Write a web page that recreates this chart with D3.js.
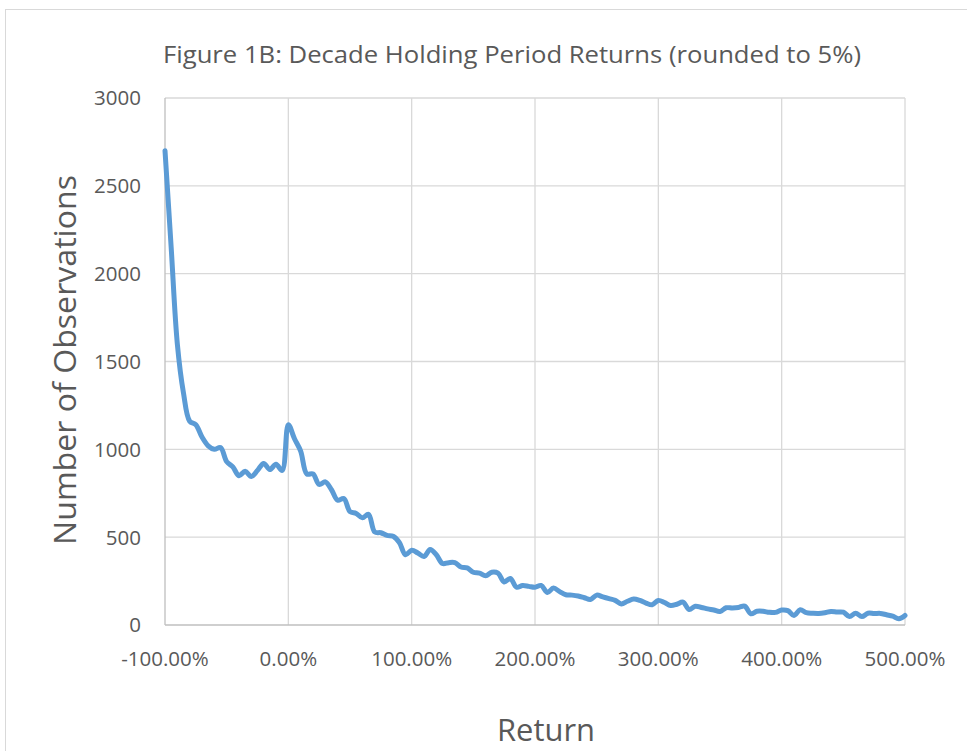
<!DOCTYPE html>
<html><head><meta charset="utf-8">
<script src="https://cdn.jsdelivr.net/npm/d3@7"></script>
<style>body{margin:0;background:#fff}svg{display:block}text{font-family:"Open Sans",sans-serif;fill:#595959}</style>
</head><body>
<svg id="c" width="967" height="751"></svg>
<script>
const returns = d3.range(-100, 501, 5);
const counts = [2700,2150,1600,1320,1160,1140,1070,1020,1000,1010,930,900,850,875,845,880,920,885,915,880,
1140,1060,990,860,860,800,815,770,710,720,645,635,610,630,530,525,510,505,470,400,
425,410,390,430,400,350,355,355,330,325,300,295,280,300,295,245,265,215,225,220,
215,225,185,210,190,172,170,165,155,145,170,160,150,140,120,135,148,140,125,115,
140,128,111,118,130,88,107,100,92,85,77,98,97,100,108,64,78,78,72,72,
85,82,54,87,70,67,66,70,77,74,73,48,67,48,67,65,66,58,50,35,54];
const xTicks = [-100,0,100,200,300,400,500];
const yTicks = [0,500,1000,1500,2000,2500,3000];
const data = returns.map((r,i)=>({r, c: counts[i]}));

const svg = d3.select("#c");
const m = {l:165, r:905, t:98, b:625};
const x = d3.scaleLinear().domain([-100,500]).range([m.l, m.r]);
const y = d3.scaleLinear().domain([0,3000]).range([m.b, m.t]);

svg.append("rect").attr("x",5.5).attr("y",9.5).attr("width",970).attr("height",760)
  .attr("fill","#fff").attr("stroke","#d9d9d9");

// gridlines
svg.append("g").selectAll("line").data(yTicks.filter(d=>d>0)).join("line")
  .attr("x1",m.l).attr("x2",m.r).attr("y1",d=>y(d)).attr("y2",d=>y(d))
  .attr("stroke","#d9d9d9").attr("stroke-width",1.3);
svg.append("g").selectAll("line").data(xTicks).join("line")
  .attr("x1",d=>x(d)).attr("x2",d=>x(d)).attr("y1",m.t).attr("y2",m.b)
  .attr("stroke", d=> d===-100 ? "#bfbfbf" : "#d9d9d9").attr("stroke-width",1.3);
svg.append("line").attr("x1",m.l).attr("x2",m.r).attr("y1",m.b).attr("y2",m.b)
  .attr("stroke","#bfbfbf").attr("stroke-width",1.3);

// y labels
svg.append("g").selectAll("text").data(yTicks).join("text")
  .attr("x",141).attr("y",d=>y(d)).attr("dy","0.36em").attr("text-anchor","end")
  .attr("font-size",20.5).text(d=>d);
// x labels
svg.append("g").selectAll("text").data(xTicks).join("text")
  .attr("x",d=>x(d)).attr("y",659).attr("dy","0.36em").attr("text-anchor","middle")
  .attr("font-size",20.5).text(d=>d.toFixed(2)+"%");

// line
svg.append("path").datum(data)
  .attr("fill","none").attr("stroke","#5b9bd5").attr("stroke-width",5)
  .attr("stroke-linejoin","round").attr("stroke-linecap","round")
  .attr("d", d3.line().x(d=>x(d.r)).y(d=>y(d.c)).curve(d3.curveCatmullRom.alpha(0.5)));

// titles
svg.append("text").attr("x",512).attr("y",55).attr("dy","0.35em").attr("text-anchor","middle")
  .attr("font-size",23).attr("textLength",698).attr("lengthAdjust","spacingAndGlyphs")
  .text("Figure 1B: Decade Holding Period Returns (rounded to 5%)");
svg.append("text").attr("transform","translate(65,360) rotate(-90)").attr("dy","0.35em")
  .attr("text-anchor","middle").attr("font-size",31).attr("textLength",370).attr("lengthAdjust","spacingAndGlyphs")
  .text("Number of Observations");
svg.append("text").attr("x",546).attr("y",730).attr("dy","0.35em").attr("text-anchor","middle")
  .attr("font-size",31).attr("textLength",98).attr("lengthAdjust","spacingAndGlyphs")
  .text("Return");
</script>
</body></html>
